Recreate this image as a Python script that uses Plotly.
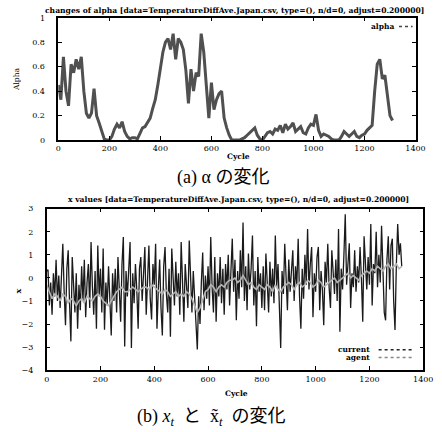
import plotly.graph_objects as go

# ---------------- data ----------------
alpha_cycle = list(range(0, 1320, 10))
alpha_values = [
    0.45, 0.33, 0.68, 0.40, 0.28, 0.62, 0.55, 0.66, 0.58, 0.68,
    0.40, 0.22, 0.18, 0.22, 0.42, 0.20, 0.14, 0.07, 0.01, 0.00,
    0.00, 0.03, 0.09, 0.13, 0.10, 0.15, 0.07, 0.03, 0.01, 0.02,
    0.02, 0.01, 0.05, 0.10, 0.11, 0.15, 0.18, 0.26, 0.33, 0.45,
    0.57, 0.72, 0.80, 0.83, 0.74, 0.87, 0.66, 0.83, 0.80, 0.74,
    0.57, 0.30, 0.58, 0.40, 0.55, 0.52, 0.87, 0.72, 0.45, 0.18,
    0.47, 0.25, 0.33, 0.38, 0.40, 0.18, 0.10, 0.04, 0.00, 0.00,
    0.00, 0.00, 0.01, 0.02, 0.04, 0.06, 0.08, 0.10, 0.04, 0.01,
    0.00, 0.03, 0.06, 0.07, 0.05, 0.09, 0.08, 0.12, 0.06, 0.13,
    0.09, 0.11, 0.14, 0.07, 0.09, 0.11, 0.06, 0.05, 0.10, 0.13,
    0.12, 0.21, 0.08, 0.03, 0.05, 0.04, 0.03, 0.01, 0.00, 0.00,
    0.00, 0.03, 0.07, 0.05, 0.03, 0.05, 0.07, 0.03, 0.02, 0.04,
    0.05, 0.08, 0.10, 0.12, 0.40, 0.62, 0.66, 0.50, 0.53, 0.36,
    0.20, 0.16,
]

current_cycle = list(range(0, 1325, 5))
current_values = [
    # 0-45
    0.30, 0.35, -1.20, -0.20, -1.60, 0.20, -0.80, 0.78, -1.00, 0.10,
    # 50-95
    -1.30, 0.50, 1.48, -0.60, -2.05, 0.40, 1.20, -1.10, -2.75, 0.90,
    # 100-145
    -0.50, -1.50, 0.20, -2.20, -0.30, -1.40, 0.50, -1.00, 0.78, -1.70,
    # 150-195
    -0.20, 0.60, -1.30, 1.55, -0.40, -1.60, 0.30, -2.20, 1.40, -0.80,
    # 200-245
    0.40, -1.50, 1.27, -2.25, -0.20, -1.20, 0.50, -0.90, -2.50, 0.20,
    # 250-295
    -1.00, 0.40, -1.50, 0.90, -0.50, -1.90, 0.60, 1.77, -2.97, 0.30,
    # 300-345
    -0.80, 0.80, 1.55, -3.04, 0.20, -1.10, 0.60, -0.50, -2.20, 0.40,
    # 350-395
    0.90, -1.00, 0.30, 1.34, -1.60, 0.20, 1.40, -0.90, -1.80, 0.60,
    # 400-445
    -0.30, 1.48, -2.20, -0.50, 0.80, -1.30, -2.50, 0.50, 1.34, -0.70,
    # 450-495
    -1.50, 0.40, -2.55, 1.27, -0.20, -1.20, 0.70, -0.80, 0.20, -1.60,
    # 500-545
    1.55, -0.30, -1.90, 0.60, -0.60, -1.30, 1.62, -0.20, -1.50, 0.30,
    # 550-595
    -1.00, -2.30, -3.10, -0.80, -2.00, -0.20, 1.10, -1.40, 0.10, -0.90,
    # 600-645
    0.50, -1.20, 1.77, -0.40, -1.50, 0.90, -1.90, 0.20, -0.80, 0.90,
    # 650-695
    -1.10, 0.40, -1.60, 0.60, -0.50, 1.00, -1.20, 0.30, 1.70, -0.60,
    # 700-745
    0.78, -1.84, 0.30, -0.90, 1.20, -0.40, 2.40, -1.00, 0.50, -1.40,
    # 750-795
    1.06, -0.50, 0.40, 1.84, -1.20, 0.30, -2.10, 0.90, -0.60, 0.20,
    # 800-845
    -1.30, 0.50, -1.40, 1.06, -0.30, -1.50, 0.70, -0.80, 0.40, -1.10,
    # 850-895
    1.84, -0.40, 0.60, -1.60, -3.04, 0.30, -0.70, 1.48, -0.20, -1.40,
    # 900-945
    0.80, -0.60, 0.30, 1.20, -1.00, 0.50, -0.30, 1.70, -0.80, -2.20,
    # 950-995
    0.40, -0.90, 1.00, -0.30, 2.12, -0.50, 0.60, 1.34, -1.70, 0.20,
    # 1000-1045
    -0.60, 0.90, 1.34, -1.40, 0.30, -0.50, -2.05, 0.70, -0.20, 1.48,
    # 1050-1095
    -0.40, -1.30, 1.20, 0.10, -0.70, 0.80, -1.00, 2.12, -2.33, 0.40,
    # 1100-1145
    -0.50, 1.00, 2.76, -0.30, 0.60, 1.50, -1.30, 0.20, -0.40, 1.20,
    # 1150-1195
    -0.60, 0.50, -0.20, 1.34, 0.00, -1.90, 1.80, 0.30, -0.50, 0.90,
    # 1200-1245
    -0.30, 2.33, -1.20, 0.60, 0.20, 2.00, -0.40, 1.00, -0.20, 2.26,
    # 1250-1295
    0.30, -1.50, -1.84, 0.80, 1.80, -0.50, 1.40, 1.70, -1.00, -2.26,
    # 1300-1320
    0.60, 2.33, 1.00, 1.50, 0.50,
]

agent_cycle = list(range(0, 1330, 10))
agent_values = [
    -0.3, -0.6, -0.9, -0.7, -0.8, -1.0, -0.7, -0.8, -1.1, -0.9,
    -1.0, -1.2, -1.0, -0.9, -1.1, -0.8, -0.9, -1.0, -0.8, -0.7,
    -0.8, -1.0, -1.1, -1.2, -1.0, -0.8, -0.6, -0.5, -0.4, -0.6,
    -0.6, -0.5, -0.4, -0.5, -0.6, -0.5, -0.4, -0.4, -0.5, -0.3,
    -0.4, -0.5, -0.6, -0.7, -0.5, -0.6, -0.8, -0.7, -0.6, -0.8,
    -0.7, -0.8, -0.6, -0.7, -0.9, -1.2, -1.5, -1.3, -0.9, -0.6,
    -0.5, -0.3, -0.4, -0.6, -0.4, -0.3, -0.4, -0.2, -0.1, -0.1,
    0.0, -0.2, -0.1, 0.1, -0.1, -0.3, -0.2, -0.4, -0.5, -0.3,
    -0.4, -0.5, -0.3, -0.4, -0.6, -0.3, -0.5, -0.6, -0.4, -0.3,
    -0.2, -0.3, -0.5, -0.3, -0.2, -0.4, -0.3, -0.1, -0.2, -0.4,
    -0.3, -0.1, -0.2, -0.4, -0.3, -0.2, -0.1, 0.0, -0.2, -0.1,
    0.0, 0.1, 0.2, 0.0, 0.1, 0.0, -0.1, 0.1, 0.2, 0.3,
    0.2, 0.4, 0.3, 0.5, 0.4, 0.3, 0.5, 0.6, 0.4, 0.5,
    0.6, 0.4, 0.5,
]

x_ticks = [0, 200, 400, 600, 800, 1000, 1200, 1400]
alpha_ticks = [0, 0.2, 0.4, 0.6, 0.8, 1]
alpha_tick_labels = ["0", "0.2", "0.4", "0.6", "0.8", "1"]
xval_ticks = [-4, -3, -2, -1, 0, 1, 2, 3]

title_a = "changes of alpha [data=TemperatureDiffAve.Japan.csv, type=(), n/d=0, adjust=0.200000]"
title_b = "x values [data=TemperatureDiffAve.Japan.csv, type=(), n/d=0, adjust=0.200000]"

# ---------------- layout helpers ----------------
W, H = 442, 432
def PX(x):
    return x / W
def PY(y):
    return 1 - y / H

SERIF = "DejaVu Serif, Liberation Serif, serif"
tickfont = dict(family=SERIF, size=8, color="black")

axis_common = dict(
    showline=True, linecolor="black", linewidth=1.5, mirror="ticks",
    ticks="inside", ticklen=4, tickcolor="black", tickwidth=1,
    showgrid=False, zeroline=False, tickfont=tickfont,
)

fig = go.Figure()
fig.add_trace(go.Scatter(x=alpha_cycle, y=alpha_values, mode="lines",
                         line=dict(color="#505050", width=3),
                         xaxis="x", yaxis="y", showlegend=False))
fig.add_trace(go.Scatter(x=current_cycle, y=current_values, mode="lines",
                         line=dict(color="#1a1a1a", width=1.3),
                         xaxis="x2", yaxis="y2", showlegend=False))
fig.add_trace(go.Scatter(x=agent_cycle, y=agent_values, mode="lines",
                         line=dict(color="#b4b4b4", width=1.6),
                         xaxis="x2", yaxis="y2", showlegend=False))

fig.update_layout(
    width=W, height=H, margin=dict(l=0, r=0, t=0, b=0),
    paper_bgcolor="white", plot_bgcolor="white",
    xaxis=dict(domain=[PX(57), PX(425)], range=[0, 1400], tickvals=x_ticks,
               anchor="y", **axis_common),
    yaxis=dict(domain=[PY(139), PY(14)], range=[0, 1], tickvals=alpha_ticks,
               ticktext=alpha_tick_labels, anchor="x", ticklabelstandoff=10,
               **axis_common),
    xaxis2=dict(domain=[PX(45), PX(433)], range=[0, 1400], tickvals=x_ticks,
                anchor="y2", **axis_common),
    yaxis2=dict(domain=[PY(374), PY(209)], range=[-4, 3], tickvals=xval_ticks,
                anchor="x2", ticklabelstandoff=10, **axis_common),
)

ann = []
def text(x, y, s, size=8, family=SERIF, xanchor="center", angle=0):
    ann.append(dict(x=PX(x), y=PY(y), xref="paper", yref="paper", text=s,
                    showarrow=False, xanchor=xanchor, yanchor="middle",
                    textangle=angle, font=dict(family=family, size=size, color="black")))

text(238, 7, "<b>" + title_a + "</b>", size=7.6)
text(243, 200, "<b>" + title_b + "</b>", size=7.6)
text(243, 156, "<b>Cycle</b>", size=7.5)
text(241, 398, "<b>Cycle</b>", size=7.5)
text(14, 77, "Alpha", size=7.5, angle=-90)
text(15, 293, "<b>x</b>", size=8, angle=-90)
text(405, 23, "<b>alpha</b>", size=7.5, xanchor="right")
text(380, 353, "<b>current</b>", size=7.5, xanchor="right")
text(380, 361, "<b>agent</b>", size=7.5, xanchor="right")

cap_font = "Liberation Serif, Noto Sans CJK JP"
text(227, 177, "(a) α&nbsp;の変化", size=18, family=cap_font)
text(215, 422,
     "(b) <i>x</i><sub><i>t</i></sub>&nbsp;&nbsp;と&nbsp;&nbsp;x\u0303<sub><i>t</i></sub>&nbsp;&nbsp;の変化",
     size=18, family=cap_font)

fig.update_layout(annotations=ann)

shapes = [
    dict(type="line", xref="paper", yref="paper", x0=PX(408), x1=PX(422),
         y0=PY(23), y1=PY(23), line=dict(color="#444444", width=1.5, dash="dot")),
    dict(type="line", xref="paper", yref="paper", x0=PX(387), x1=PX(422),
         y0=PY(353), y1=PY(353), line=dict(color="#222222", width=1.5, dash="dot")),
    dict(type="line", xref="paper", yref="paper", x0=PX(387), x1=PX(422),
         y0=PY(361), y1=PY(361), line=dict(color="#888888", width=1.5, dash="dot")),
]
fig.update_layout(shapes=shapes)

fig.write_html("out.html")
